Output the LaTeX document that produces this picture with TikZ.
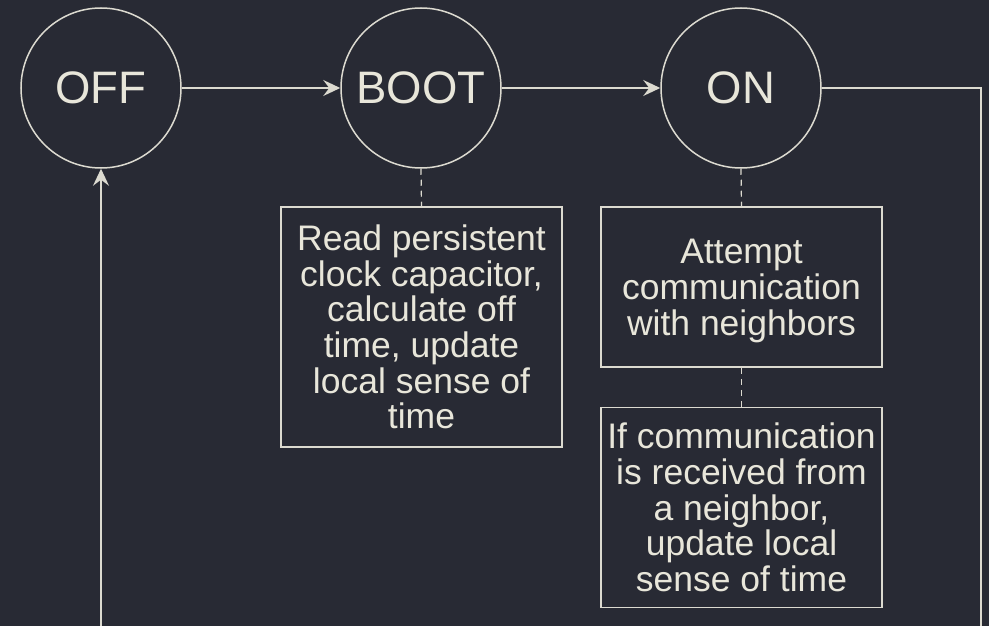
\documentclass[tikz,border=0pt]{standalone}
\usepackage{fontspec}
\setmainfont{Liberation Sans}
\usetikzlibrary{arrows.meta}
\definecolor{bgcol}{HTML}{282A34}
\definecolor{inkcol}{HTML}{E8E6DA}
\definecolor{linecol}{HTML}{DCDAD0}
\tikzset{
  state/.style={circle, draw=linecol, line width=1.5pt, minimum size=160pt, inner sep=0pt,
    text=inkcol, font=\fontsize{45.5}{45.5}\selectfont},
  notebox/.style={rectangle, draw=linecol, line width=1.5pt, minimum width=281pt, inner sep=0pt,
    text=inkcol, align=center, font=\fontsize{35.5}{35.6}\selectfont},
  notetext/.style={inner sep=0pt, text=inkcol, align=center, font=\fontsize{35.5}{35.6}\selectfont},
  flow/.style={draw=linecol, line width=1.5pt, -{Stealth[length=17pt, width=16pt, inset=6pt]}},
  loopline/.style={draw=linecol, line width=1.5pt},
  tie/.style={draw=linecol, line width=1.2pt, dash pattern=on 6pt off 5pt},
}
\begin{document}
\begin{tikzpicture}[x=1pt, y=-1pt]
\fill[bgcol] (0,0) rectangle (989,626);
\useasboundingbox (0,0) rectangle (989,626);
\clip (0,0) rectangle (989,626);

% states
\node[state] (off)  at (101,88) {OFF};
\node[state] (boot) at (421,88) {BOOT};
\node[state] (on)   at (741,88) {ON};

% notes
\node[notebox, minimum height=240pt] (bootnote) at (421.5,327)
  {Read persistent\\clock capacitor,\\calculate off\\time, update\\local sense of\\time};
\node[notebox, minimum height=160pt] (onnote) at (741.5,287) {};
\node[notetext] (onnotetext) at (741.5,291)
  {Attempt\\communication\\with neighbors};
\node[notebox, minimum height=200pt] (rxnote) at (741.5,507.5)
  {If communication\\is received from\\a neighbor,\\update local\\sense of time};

% transitions
\draw[flow] (off) -- (boot);
\draw[flow] (boot) -- (on);

\coordinate (turnA) at (981,88);
\coordinate (turnB) at (981,660);
\coordinate (turnC) at (101,660);
\draw[loopline] (on.east) -- (turnA) -- (turnB) -- (turnC);
\draw[flow] (turnC) -- (off.south);

% dashed ties between states and notes
\draw[tie] (boot.south) -- (bootnote.north);
\draw[tie] (on.south) -- (onnote.north);
\draw[tie] (onnote.south) -- (rxnote.north);
\end{tikzpicture}
\end{document}
